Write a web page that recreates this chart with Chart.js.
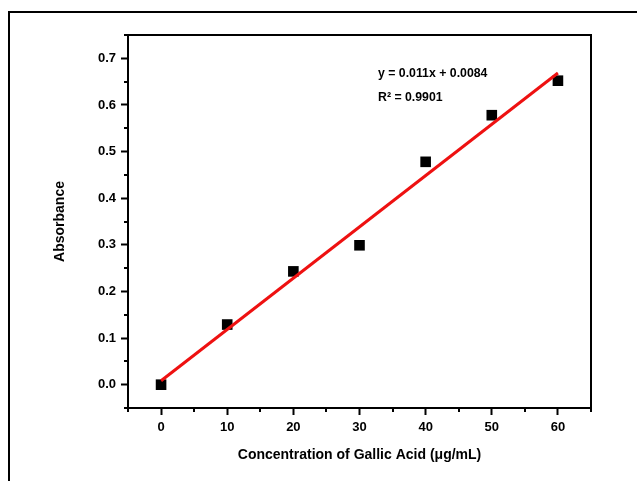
<!DOCTYPE html>
<html>
<head>
<meta charset="utf-8">
<script src="https://cdn.jsdelivr.net/npm/chart.js@4/dist/chart.umd.min.js"></script>
<style>
  html, body { margin: 0; padding: 0; background: #fff; overflow: hidden; }
  #frame { position: absolute; left: 8px; top: 11px; width: 700px; height: 600px; border: 2px solid #000; box-sizing: border-box; }
  #c { position: absolute; left: 0; top: 0; }
</style>
</head>
<body>
<div id="frame"></div>
<canvas id="c" width="637" height="481"></canvas>
<script>
// ---- data ----
const concentrations = [0, 10, 20, 30, 40, 50, 60];
const absorbance = [0.000, 0.129, 0.243, 0.299, 0.478, 0.578, 0.652];
const fitX = [0, 60];
const fitY = [0.0084, 0.6684];
const xTicks = [0, 10, 20, 30, 40, 50, 60];
const xTickLabels = ['0', '10', '20', '30', '40', '50', '60'];
const xMinor = [-5, 5, 15, 25, 35, 45, 55, 65];
const yTicks = [0, 0.1, 0.2, 0.3, 0.4, 0.5, 0.6, 0.7];
const yTickLabels = ['0.0', '0.1', '0.2', '0.3', '0.4', '0.5', '0.6', '0.7'];
const yMinor = [-0.05, 0.05, 0.15, 0.25, 0.35, 0.45, 0.55, 0.65, 0.75];
const equationText = 'y = 0.011x + 0.0084';
const r2Text = 'R\u00B2 = 0.9901';
const xTitle = 'Concentration of Gallic Acid (\u03BCg/mL)';
const yTitle = 'Absorbance';

const FONT = '"Liberation Sans", Arial, sans-serif';

const decor = {
  id: 'decor',
  afterDraw(chart) {
    const { ctx, chartArea: a, scales: { x, y } } = chart;
    ctx.save();
    ctx.strokeStyle = '#000';
    ctx.lineWidth = 2;
    ctx.beginPath();
    ctx.moveTo(a.left - 1, a.top);
    ctx.lineTo(a.right, a.top);
    ctx.lineTo(a.right, a.bottom + 1);
    ctx.stroke();
    ctx.beginPath();
    xMinor.forEach(v => {
      const px = Math.round(x.getPixelForValue(v));
      ctx.moveTo(px, a.bottom);
      ctx.lineTo(px, a.bottom + 4);
    });
    yMinor.forEach(v => {
      const py = Math.round(y.getPixelForValue(v));
      ctx.moveTo(a.left, py);
      ctx.lineTo(a.left - 4, py);
    });
    ctx.stroke();
    ctx.fillStyle = '#000';
    ctx.font = 'bold 12.3px ' + FONT;
    ctx.textBaseline = 'middle';
    ctx.textAlign = 'left';
    ctx.fillText(equationText, 378, 74);
    ctx.fillText(r2Text, 378, 98);
    ctx.restore();
  }
};

const tickFont = { family: FONT, size: 13, weight: 'bold' };
const titleFont = { family: FONT, size: 14, weight: 'bold' };

new Chart(document.getElementById('c'), {
  type: 'scatter',
  data: {
    datasets: [
      {
        label: 'fit',
        data: fitX.map((v, i) => ({ x: v, y: fitY[i] })),
        showLine: true,
        borderColor: '#ee1111',
        borderWidth: 3,
        pointRadius: 0,
        fill: false,
        order: 0
      },
      {
        label: 'data',
        data: concentrations.map((v, i) => ({ x: v, y: absorbance[i] })),
        pointStyle: 'rect',
        pointRadius: 7.5,
        pointBackgroundColor: '#000',
        pointBorderColor: '#000',
        pointBorderWidth: 0,
        showLine: false,
        order: 1
      }
    ]
  },
  options: {
    responsive: false,
    animation: false,
    devicePixelRatio: 1,
    layout: { padding: { left: 48, top: 35, right: 46, bottom: 13 } },
    plugins: { legend: { display: false }, tooltip: { enabled: false } },
    scales: {
      x: {
        type: 'linear',
        position: 'bottom',
        min: -5,
        max: 65,
        afterBuildTicks: s => { s.ticks = xTicks.map(v => ({ value: v })); },
        afterFit: s => { s.height = 60; },
        grid: { drawOnChartArea: false, drawTicks: true, tickLength: 7, tickWidth: 2, tickColor: '#000' },
        border: { display: true, color: '#000', width: 2 },
        ticks: {
          color: '#000', font: tickFont, padding: 5, maxRotation: 0, autoSkip: false,
          callback: (v) => { const i = xTicks.indexOf(v); return i >= 0 ? xTickLabels[i] : ''; }
        },
        title: { display: true, text: xTitle, color: '#000', font: titleFont, padding: { top: 4, bottom: 4 } }
      },
      y: {
        type: 'linear',
        position: 'left',
        min: -0.05,
        max: 0.75,
        afterBuildTicks: s => { s.ticks = yTicks.map(v => ({ value: v })); },
        afterFit: s => { s.width = 80; },
        grid: { drawOnChartArea: false, drawTicks: true, tickLength: 7, tickWidth: 2, tickColor: '#000' },
        border: { display: true, color: '#000', width: 2 },
        ticks: {
          color: '#000', font: tickFont, padding: 5, autoSkip: false,
          callback: (v) => { const i = yTicks.findIndex(t => Math.abs(t - v) < 1e-9); return i >= 0 ? yTickLabels[i] : ''; }
        },
        title: { display: true, text: yTitle, color: '#000', font: titleFont, padding: { top: 4, bottom: 4 } }
      }
    }
  },
  plugins: [decor]
});
</script>
</body>
</html>
